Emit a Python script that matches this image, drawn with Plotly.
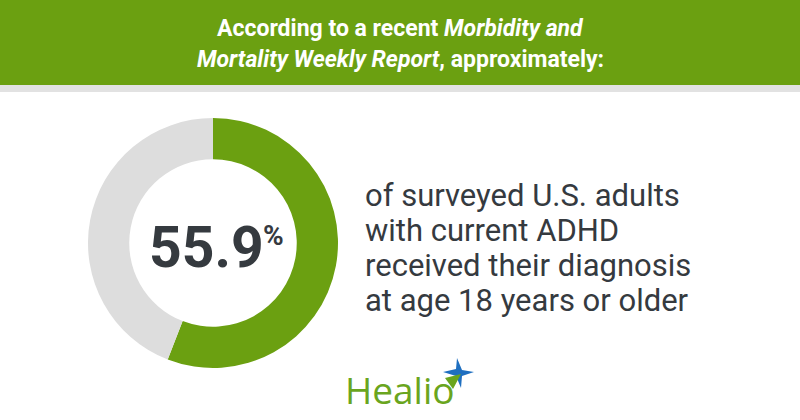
import plotly.graph_objects as go

# data
labels = ["Diagnosed at age 18 or older", "Other"]
values = [55.9, 44.1]
headline_value = "55.9"
header_lines = [
    "According to a recent <i>Morbidity and</i>",
    "<i>Mortality Weekly Report</i>, approximately:",
]
body_lines = [
    "of surveyed U.S. adults",
    "with current ADHD",
    "received their diagnosis",
    "at age 18 years or older",
]

GREEN = "#6ba011"
LIGHT_GRAY = "#dddddd"
DARK = "#353a3f"
W, H = 800, 420


def px_y(y):
    # pixel-from-top -> paper
    return 1 - y / H


fig = go.Figure()
fig.add_trace(
    go.Pie(
        labels=labels,
        values=values,
        hole=0.67,
        sort=False,
        direction="clockwise",
        rotation=0,
        marker=dict(colors=[GREEN, LIGHT_GRAY], line=dict(width=0)),
        textinfo="none",
        hoverinfo="label+percent",
        domain=dict(x=[88 / W, 338 / W], y=[px_y(368), px_y(118)]),
        showlegend=False,
    )
)

# header band + thin gray strip
fig.add_shape(type="rect", xref="paper", yref="paper", x0=0, x1=1,
              y0=px_y(85), y1=1, fillcolor=GREEN, line_width=0, layer="below")
fig.add_shape(type="rect", xref="paper", yref="paper", x0=0, x1=1,
              y0=px_y(92), y1=px_y(85), fillcolor="#e2e2e2", line_width=0, layer="below")

for i, line in enumerate(header_lines):
    fig.add_annotation(
        text=f"<b>{line}</b>", x=0.5, y=px_y(29 + 31 * i), xref="paper", yref="paper",
        showarrow=False, xanchor="center", yanchor="middle",
        font=dict(family="Roboto", size=23, color="white"),
    )

# centre figure + small raised percent sign
fig.add_annotation(
    text=f"<b>{headline_value}</b>", x=265 / W, y=px_y(247), xref="paper", yref="paper",
    showarrow=False, xanchor="right", yanchor="middle", borderpad=0,
    font=dict(family="Roboto", size=57, color=DARK),
)
fig.add_annotation(
    text="<b>%</b>", x=262 / W, y=px_y(235), xref="paper", yref="paper",
    showarrow=False, xanchor="left", yanchor="middle", borderpad=0,
    font=dict(family="Roboto", size=28, color=DARK),
)

for i, line in enumerate(body_lines):
    fig.add_annotation(
        text=line, x=363 / W, y=px_y(195 + 35 * i), xref="paper", yref="paper",
        showarrow=False, xanchor="left", yanchor="middle",
        font=dict(family="Roboto", size=31, color=DARK),
    )

# Healio logo
fig.add_annotation(
    text="Healio", x=343 / W, y=px_y(389), xref="paper", yref="paper",
    showarrow=False, xanchor="left", yanchor="middle",
    font=dict(family="Open Sans", size=37, color="#6aa51e"),
)


def poly(pts):
    return "M " + " L ".join(f"{x / W},{px_y(y)}" for x, y in pts) + " Z"


cx, cy = 459, 373
fig.add_shape(type="path", xref="paper", yref="paper",
              path=poly([(cx - 2, cy - 15), (cx + 3, cy - 3), (cx + 15, cy - 1), (cx + 3, cy + 3),
                         (cx + 2, cy + 15), (cx - 3, cy + 3), (cx - 16, cy - 1), (cx - 3, cy - 4)]),
              fillcolor="#1f6fc0", line_width=0)
fig.add_shape(type="path", xref="paper", yref="paper",
              path=poly([(cx - 14, cy + 5), (cx + 2, cy + 1), (cx - 6, cy + 16)]),
              fillcolor="#6aa51e", line_width=0)

fig.update_layout(
    width=W, height=H,
    margin=dict(l=0, r=0, t=0, b=0),
    paper_bgcolor="white", plot_bgcolor="white",
)
fig.write_html("out.html", config={"displayModeBar": False},
               post_script="document.body.style.margin='0px';")
